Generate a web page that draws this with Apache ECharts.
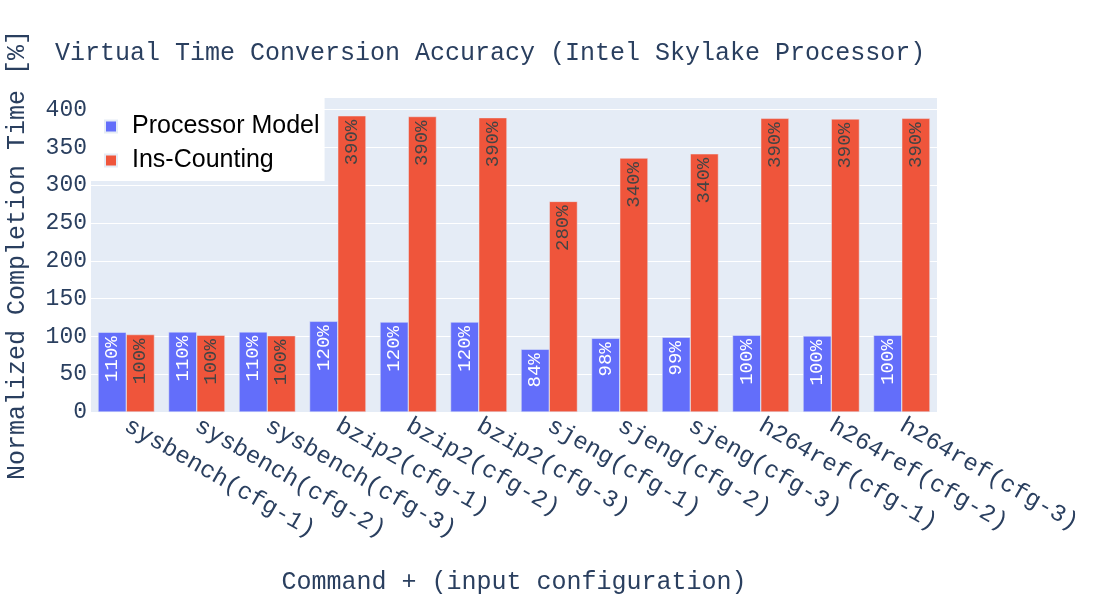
<!DOCTYPE html>
<html>
<head>
<meta charset="utf-8">
<script src="https://cdn.jsdelivr.net/npm/echarts@6/dist/echarts.min.js"></script>
<style>html,body{margin:0;padding:0;background:#fff}#c{width:1100px;height:600px}</style>
</head>
<body>
<div id="c"></div>
<script>
const categories = ["sysbench(cfg-1)","sysbench(cfg-2)","sysbench(cfg-3)","bzip2(cfg-1)","bzip2(cfg-2)","bzip2(cfg-3)","sjeng(cfg-1)","sjeng(cfg-2)","sjeng(cfg-3)","h264ref(cfg-1)","h264ref(cfg-2)","h264ref(cfg-3)"];
const processorModel = [105.5, 106, 106, 120, 119, 119, 83, 97.6, 99, 101.6, 100.7, 101.6];
const insCounting = [102.5, 101.7, 101, 392, 391, 389.5, 278.7, 336, 341.7, 388.6, 387.8, 388.6];
const processorModelLabels = ["110%","110%","110%","120%","120%","120%","84%","98%","99%","100%","100%","100%"];
const insCountingLabels = ["100%","100%","100%","390%","390%","390%","280%","340%","340%","390%","390%","390%"];
const yTicks = [0,50,100,150,200,250,300,350,400];

const mono = "'Liberation Mono', 'DejaVu Sans Mono', monospace";
const chart = echarts.init(document.getElementById('c'), null, {renderer:'canvas'});
chart.setOption({
  animation: false,
  backgroundColor: '#fff',
  title: {
    text: 'Virtual Time Conversion Accuracy (Intel Skylake Processor)',
    left: 50, top: 36,
    textStyle: {fontFamily: mono, fontSize: 25, fontWeight: 'normal', color: '#2a3f5f'}
  },
  legend: {
    left: 91, top: 98,
    orient: 'vertical',
    backgroundColor: '#fff',
    padding: [16, 5, 8, 13],
    itemWidth: 12, itemHeight: 12, itemGap: 9,
    icon: 'rect',
    textStyle: {fontFamily: "'Liberation Sans', Arial, sans-serif", fontSize: 25, color: '#000', padding: [0, 0, 0, 10]},
    data: ['Processor Model','Ins-Counting']
  },
  grid: {left: 91, right: 163, top: 98, bottom: 188, show: true, backgroundColor: '#E5ECF6', borderWidth: 0, outerBoundsMode: 'none', containLabel: false},
  xAxis: {
    type: 'category',
    data: categories,
    name: 'Command + (input configuration)',
    nameLocation: 'middle',
    nameGap: 158,
    nameTextStyle: {fontFamily: mono, fontSize: 25, color: '#2a3f5f'},
    axisLine: {show: false}, axisTick: {show: false},
    axisLabel: {rotate: -30, interval: 0, margin: 12, fontFamily: mono, fontSize: 24, color: '#2a3f5f'}
  },
  yAxis: {
    type: 'value',
    min: 0, max: 415.5, interval: 50,
    name: 'Normalized Completion Time [%]',
    nameLocation: 'middle',
    nameGap: 61,
    nameTextStyle: {fontFamily: mono, fontSize: 25, color: '#2a3f5f'},
    axisLine: {show: false}, axisTick: {show: false},
    splitLine: {lineStyle: {color: '#fff', width: 1}, showMaxLine: false},
    axisLabel: {
      margin: 4, fontFamily: mono, fontSize: 23, color: '#2a3f5f', showMaxLabel: false,
      formatter: v => yTicks.includes(v) ? String(v) : ''
    }
  },
  series: [
    {
      name: 'Processor Model', type: 'bar',
      data: processorModel,
      barGap: '0%', barCategoryGap: '20%',
      itemStyle: {color: '#636efa', borderColor: '#E5ECF6', borderWidth: 0.5},
      label: {
        show: true, position: 'insideTop', rotate: 90, align: 'right', verticalAlign: 'middle', distance: 4,
        fontFamily: mono, fontSize: 19, color: '#fff',
        formatter: p => processorModelLabels[p.dataIndex]
      }
    },
    {
      name: 'Ins-Counting', type: 'bar',
      data: insCounting,
      itemStyle: {color: '#EF553B', borderColor: '#E5ECF6', borderWidth: 0.5},
      label: {
        show: true, position: 'insideTop', rotate: 90, align: 'right', verticalAlign: 'middle', distance: 4,
        fontFamily: mono, fontSize: 19, color: '#444',
        formatter: p => insCountingLabels[p.dataIndex]
      }
    }
  ]
});
</script>
</body>
</html>
